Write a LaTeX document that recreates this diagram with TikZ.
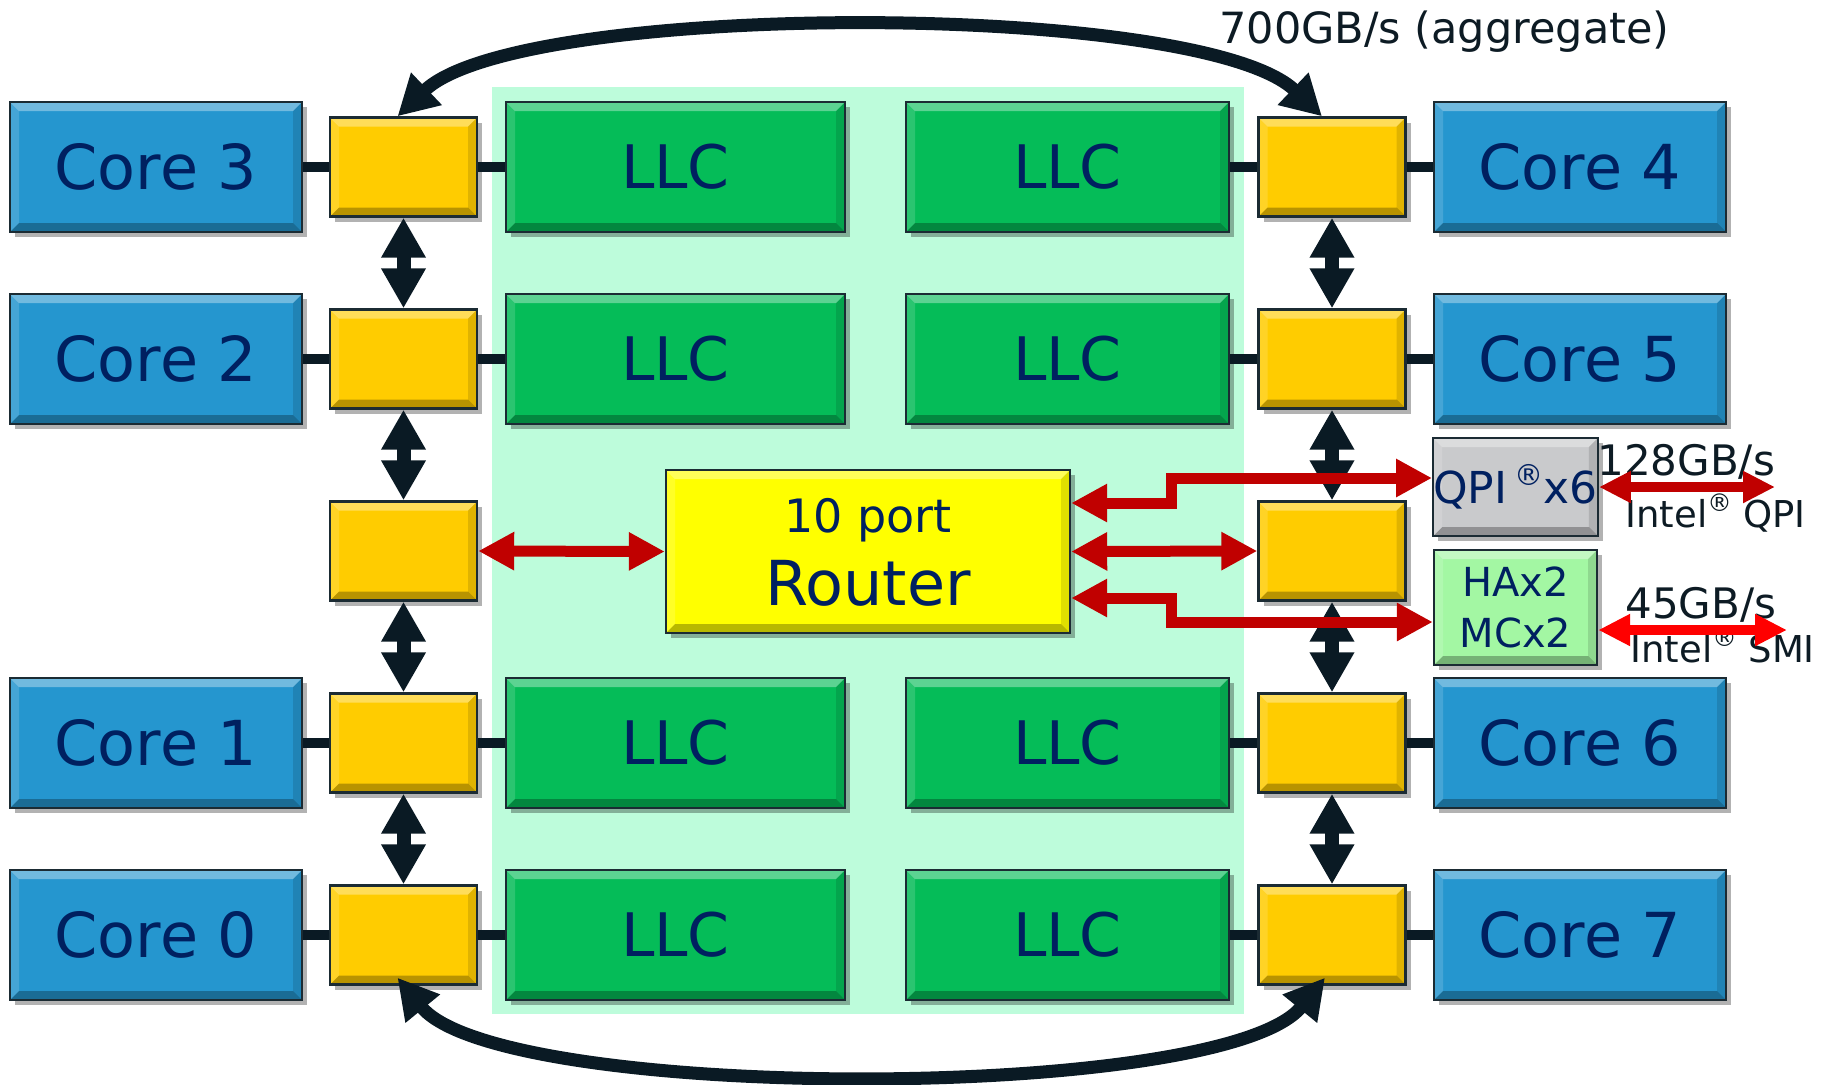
\documentclass[tikz,border=0pt]{standalone}
\usepackage{fontspec}
\setmainfont{DejaVu Sans}
\usetikzlibrary{arrows.meta,shadows,calc}
\definecolor{coreblue}{HTML}{2596CF}
\definecolor{navy}{HTML}{002060}
\definecolor{boxborder}{HTML}{1B2B33}
\definecolor{ylw}{HTML}{FFCC00}
\definecolor{llcgreen}{HTML}{05BC58}
\definecolor{bggreen}{HTML}{BDFCDB}
\definecolor{rtyellow}{HTML}{FFFF00}
\definecolor{qpigray}{HTML}{C9CACC}
\definecolor{hagreen}{HTML}{A3F7A3}
\definecolor{darkarrow}{HTML}{0A1A24}
\definecolor{darkred}{HTML}{C00000}
\definecolor{brightred}{HTML}{FF0000}
\definecolor{labeltext}{HTML}{0D1B24}
\newcommand{\regmark}{\raisebox{0.42em}{\scalebox{0.66}{®}}}
\tikzset{
  bevel/.style={path picture={
    \fill[white,opacity=0.35] (path picture bounding box.north west) -- (path picture bounding box.north east)
      -- ([xshift=-4.5pt,yshift=-4.5pt]path picture bounding box.north east) -- ([xshift=4.5pt,yshift=-4.5pt]path picture bounding box.north west) -- cycle;
    \fill[white,opacity=0.15] (path picture bounding box.north west) -- ([xshift=4.5pt,yshift=-4.5pt]path picture bounding box.north west)
      -- ([xshift=4.5pt,yshift=4.5pt]path picture bounding box.south west) -- (path picture bounding box.south west) -- cycle;
    \fill[black,opacity=0.12] (path picture bounding box.north east) -- ([xshift=-4.5pt,yshift=-4.5pt]path picture bounding box.north east)
      -- ([xshift=-4.5pt,yshift=4.5pt]path picture bounding box.south east) -- (path picture bounding box.south east) -- cycle;
    \fill[black,opacity=0.28] (path picture bounding box.south west) -- (path picture bounding box.south east)
      -- ([xshift=-4.5pt,yshift=4.5pt]path picture bounding box.south east) -- ([xshift=4.5pt,yshift=4.5pt]path picture bounding box.south west) -- cycle;
  }},
  basebox/.style={draw=boxborder, line width=1.2pt, inner sep=0pt, text=navy,
    drop shadow={shadow xshift=2.5pt, shadow yshift=-2.5pt, opacity=0.3, fill=black}, bevel},
  corebox/.style={basebox, fill=coreblue, minimum width=146pt, minimum height=65pt, font=\fontsize{31}{31}\selectfont},
  swbox/.style={basebox, fill=ylw, minimum width=73.5pt, minimum height=49.5pt},
  llcl/.style={basebox, fill=llcgreen, minimum width=169.5pt, minimum height=65pt, font=\fontsize{30}{30}\selectfont},
  llcr/.style={basebox, fill=llcgreen, minimum width=161.5pt, minimum height=65pt, font=\fontsize{30}{30}\selectfont},
  routerbox/.style={basebox, fill=rtyellow, minimum width=202pt, minimum height=81.5pt},
  qpibox/.style={basebox, fill=qpigray, minimum width=81.5pt, minimum height=49pt, font=\fontsize{22}{22}\selectfont},
  habox/.style={basebox, fill=hagreen, minimum width=81.5pt, minimum height=57.5pt, font=\fontsize{20}{25.5}\selectfont, align=center},
  link/.style={draw=darkarrow, line width=5pt},
  varrow/.style={draw=darkarrow, line width=7pt, {Triangle[length=20pt,width=21pt]}-{Triangle[length=20pt,width=21pt]}},
  arcarrow/.style={draw=darkarrow, line width=6.5pt, {Triangle[length=20pt,width=21pt]}-{Triangle[length=20pt,width=21pt]}},
  redarrow/.style={draw=darkred, line width=5.5pt, {Triangle[length=18pt,width=18pt]}-{Triangle[length=18pt,width=18pt]}},
  extarrow/.style={line width=5pt, {Triangle[length=16pt,width=15pt]}-{Triangle[length=16pt,width=15pt]}},
  bwnote/.style={text=labeltext, inner sep=0pt, anchor=base west, font=\fontsize{21}{21}\selectfont},
  ifnote/.style={text=labeltext, inner sep=0pt, anchor=base west, font=\fontsize{18.5}{18.5}\selectfont},
}
\begin{document}
\begin{tikzpicture}[x=0.5pt,y=-0.5pt]
\useasboundingbox (0,0) rectangle (1821,1084);
\fill[bggreen] (492,87) rectangle (1244,1014);

% cores
\node[corebox] (c3) at (156,167) {Core 3};
\node[corebox] (c2) at (156,359) {Core 2};
\node[corebox] (c1) at (156,743) {Core 1};
\node[corebox] (c0) at (156,935) {Core 0};
\node[corebox] (cr3) at (1580,167) {Core 4};
\node[corebox] (cr2) at (1580,359) {Core 5};
\node[corebox] (cr1) at (1580,743) {Core 6};
\node[corebox] (cr0) at (1580,935) {Core 7};

% ring stops
\node[swbox] (yl3) at (403.5,167) {};
\node[swbox] (yl2) at (403.5,359) {};
\node[swbox] (ylm) at (403.5,551) {};
\node[swbox] (yl1) at (403.5,743) {};
\node[swbox] (yl0) at (403.5,935) {};
\node[swbox] (yr3) at (1332,167) {};
\node[swbox] (yr2) at (1332,359) {};
\node[swbox] (yrm) at (1332,551) {};
\node[swbox] (yr1) at (1332,743) {};
\node[swbox] (yr0) at (1332,935) {};

% LLC slices
\node[llcl] (l3) at (675.5,167) {LLC};
\node[llcl] (l2) at (675.5,359) {LLC};
\node[llcl] (l1) at (675.5,743) {LLC};
\node[llcl] (l0) at (675.5,935) {LLC};
\node[llcr] (r3) at (1067.5,167) {LLC};
\node[llcr] (r2) at (1067.5,359) {LLC};
\node[llcr] (r1) at (1067.5,743) {LLC};
\node[llcr] (r0) at (1067.5,935) {LLC};

% router
\node[routerbox] (router) at (868,551.5) {};
\node[inner sep=0pt, anchor=base, text=navy, font=\fontsize{23}{23}\selectfont] (rt1) at (868,532) {10 port};
\node[inner sep=0pt, anchor=base, text=navy, font=\fontsize{31}{31}\selectfont] (rt2) at (868,605) {Router};

% QPI and HA
\node[qpibox] (qpi) at (1515.5,487) {QPI\,\regmark x6};
\node[habox] (ha) at (1515.5,607.5) {HAx2\\MCx2};

% black links
\foreach \r in {3,2,1,0}{
  \draw[link] (c\r.east) -- (yl\r.west);
  \draw[link] (yl\r.east) -- (l\r.west);
  \draw[link] (r\r.east) -- (yr\r.west);
  \draw[link] (yr\r.east) -- (cr\r.west);
}

% vertical ring arrows
\draw[varrow] (yl3.south) -- (yl2.north);
\draw[varrow] (yl2.south) -- (ylm.north);
\draw[varrow] (ylm.south) -- (yl1.north);
\draw[varrow] (yl1.south) -- (yl0.north);
\draw[varrow] (yr3.south) -- (yr2.north);
\draw[varrow] (yr2.south) -- (yrm.north);
\draw[varrow] (yrm.south) -- (yr1.north);
\draw[varrow] (yr1.south) -- (yr0.north);

% arcs
\draw[arcarrow] ([xshift=-3pt]yl3.north) .. controls (520,0) and (1200,0) .. ([xshift=-5pt]yr3.north);
\draw[arcarrow] ([xshift=-3pt,yshift=4pt]yl0.south) .. controls (500,1103) and (1223,1103) .. ([xshift=-3.5pt,yshift=4pt]yr0.south);
\node[inner sep=0pt, anchor=base west, text=labeltext, font=\fontsize{21.5}{21.5}\selectfont] (agg) at (1219,43) {700GB/s (aggregate)};

% router links
\draw[redarrow] (ylm.east) -- (router.west);
\draw[redarrow] (router.east) -- (yrm.west);
\draw[redarrow] ([yshift=24.25pt]router.east) -- ++(100,0) |- ([yshift=4.5pt]qpi.west);
\draw[redarrow] ([yshift=-23.25pt]router.east) -- ++(100,0) |- ([yshift=-7.25pt]ha.west);

% external labels and links
\node[bwnote] (bw1) at (1597,475) {128GB/s};
\node[ifnote] (if1) at (1625,527) {Intel\regmark\ QPI};
\node[bwnote] (bw2) at (1625,618) {45GB/s};
\node[ifnote] (if2) at (1630,662) {Intel\regmark\ SMI};
\coordinate (qpiout) at (1775,487);
\coordinate (smiout) at (1787,630);
\draw[extarrow, draw=darkred] (qpi.east) -- (qpiout);
\draw[extarrow, draw=brightred] ([yshift=-11.25pt]ha.east) -- (smiout);
\end{tikzpicture}
\end{document}
